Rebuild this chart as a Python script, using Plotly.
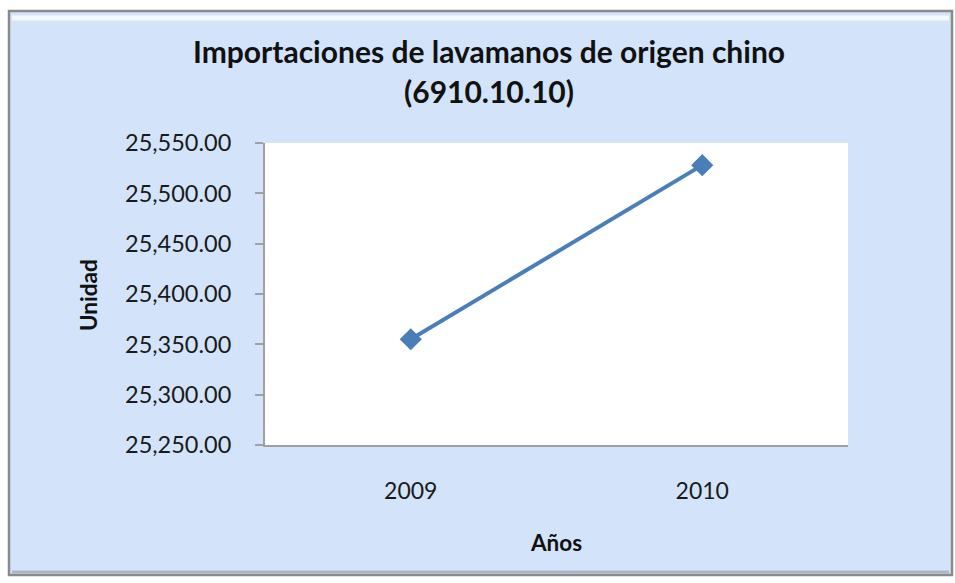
import plotly.graph_objects as go

years = ["2009", "2010"]
values = [25355.0, 25528.0]
y_ticks = [25250, 25300, 25350, 25400, 25450, 25500, 25550]
y_tick_labels = ["25,250.00", "25,300.00", "25,350.00", "25,400.00", "25,450.00", "25,500.00", "25,550.00"]

W, H = 955, 583
L, R, T, B = 265, 848, 143, 445

def px(x):
    return (x - L) / (R - L)

def py(y):
    return (B - y) / (B - T)

FONT = "Lato, 'Open Sans', sans-serif"

fig = go.Figure()
fig.add_trace(go.Scatter(
    x=years, y=values, mode="lines+markers",
    line=dict(color="#4a7ebb", width=4),
    marker=dict(symbol="diamond", size=17, color="#4a7ebb"),
    showlegend=False,
))

fig.update_layout(
    width=W, height=H,
    margin=dict(l=L, r=W - R, t=T, b=H - B),
    paper_bgcolor="white",
    plot_bgcolor="white",
    font=dict(family=FONT, color="#1a1a1a"),
    xaxis=dict(
        type="category", range=[-0.5, 1.5],
        showline=True, linecolor="#a0a0a0", linewidth=2,
        showgrid=False, ticks="", zeroline=False,
        tickfont=dict(size=23, family=FONT, color="#1a1a1a"),
        ticklabelstandoff=24,
    ),
    yaxis=dict(
        range=[25250, 25550], tickvals=y_ticks, ticktext=y_tick_labels,
        showline=True, linecolor="#a0a0a0", linewidth=2,
        showgrid=False, zeroline=False,
        ticks="outside", ticklen=8, tickcolor="#a0a0a0", tickwidth=2,
        tickfont=dict(size=23.5, family=FONT, color="#1a1a1a"),
        ticklabelstandoff=19,
    ),
    shapes=[
        dict(type="rect", xref="paper", yref="paper", layer="below",
             x0=px(9), x1=px(952), y0=py(575), y1=py(11),
             fillcolor="#d3e4fa", line=dict(color="#8a8a8a", width=2.5)),
        dict(type="line", xref="paper", yref="paper", layer="below",
             x0=px(12), x1=px(949), y0=py(18), y1=py(18),
             line=dict(color="#f4f9ff", width=5)),
        dict(type="line", xref="paper", yref="paper", layer="below",
             x0=px(12), x1=px(949), y0=py(572), y1=py(572),
             line=dict(color="#a9b6c6", width=3)),
        dict(type="rect", xref="paper", yref="paper", layer="below",
             x0=0, x1=1, y0=0, y1=1,
             fillcolor="white", line=dict(width=0)),
    ],
    annotations=[
        dict(text="<b>Importaciones de lavamanos de origen chino</b>",
             xref="paper", yref="paper", x=px(489), y=py(51),
             showarrow=False, xanchor="center", yanchor="middle",
             font=dict(size=30, family=FONT, color="#111111")),
        dict(text="<b>(6910.10.10)</b>",
             xref="paper", yref="paper", x=px(489), y=py(91),
             showarrow=False, xanchor="center", yanchor="middle",
             font=dict(size=30, family=FONT, color="#111111")),
        dict(text="<b>Unidad</b>",
             xref="paper", yref="paper", x=px(88), y=py(295),
             showarrow=False, xanchor="center", yanchor="middle", textangle=-90,
             font=dict(size=22.5, family=FONT, color="#111111")),
        dict(text="<b>Años</b>",
             xref="paper", yref="paper", x=px(556), y=py(542),
             showarrow=False, xanchor="center", yanchor="middle",
             font=dict(size=22.5, family=FONT, color="#111111")),
    ],
)

fig.write_html("out.html", config={"displayModeBar": False},
               post_script="document.body.style.margin='0';")
